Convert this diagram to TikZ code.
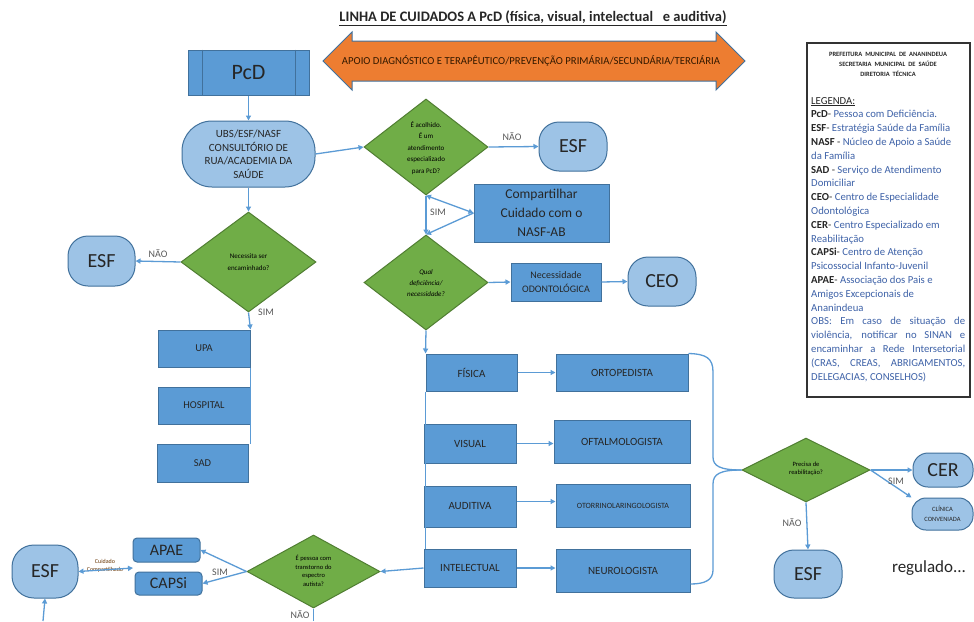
\documentclass[tikz,border=0pt]{standalone}
\usepackage{fontspec}
\setmainfont{Carlito}
\usetikzlibrary{shapes.geometric,arrows.meta,calc}
\definecolor{boxblue}{HTML}{5B9BD5}
\definecolor{boxedge}{HTML}{41719C}
\definecolor{lightblue}{HTML}{9DC3E6}
\definecolor{dgreen}{HTML}{70AD47}
\definecolor{gedge}{HTML}{507E32}
\definecolor{orangef}{HTML}{ED7D31}
\definecolor{conn}{HTML}{5B9BD5}
\definecolor{legblue}{HTML}{3E62A8}
\definecolor{lblgray}{HTML}{595959}
\begin{document}
\begin{tikzpicture}[x=1pt,y=-1pt,
 bx/.style={draw=boxedge, fill=boxblue, line width=1pt, inner sep=1pt, align=center, text=black!85},
 rnd/.style={draw=boxedge, fill=lightblue, line width=1pt, inner sep=1pt, align=center, text=black!85},
 dia/.style={diamond, draw=gedge, fill=dgreen, line width=1pt, inner sep=0pt},
 dtxt/.style={align=center, inner sep=0pt, text=black},
 con/.style={draw=conn, line width=1.3pt, -{Triangle[length=5pt,width=5pt]}},
 dcon/.style={draw=conn, line width=1.3pt, {Triangle[length=5pt,width=5pt]}-{Triangle[length=5pt,width=5pt]}},
 ln/.style={draw=conn, line width=1.3pt},
 lbl/.style={font=\fontsize{10}{12}\selectfont, text=lblgray, inner sep=0pt}
]
\useasboundingbox (0,0) rectangle (974,621);
\fill[white] (0,0) rectangle (974,621);

% title and big arrow
\node[font=\fontsize{14.5}{16}\selectfont\bfseries, text=black!85, inner sep=0pt] (title) at (533,18)
 {\underline{LINHA DE CUIDADOS A PcD (física, visual, intelectual \ \ e auditiva)}};
\draw[draw=boxedge, fill=orangef, line width=1pt] (323,61) -- (352,32) -- (352,41) -- (716,41) -- (716,32)
 -- (745,61) -- (716,90) -- (716,81) -- (352,81) -- (352,90) -- cycle;
\node[font=\fontsize{10.7}{12}\selectfont, text=black!80!orange, inner sep=0pt] (apoio) at (531,61)
 {APOIO DIAGNÓSTICO E TERAPÊUTICO/PREVENÇÃO PRIMÁRIA/SECUNDÁRIA/TERCIÁRIA};

% legend
\draw[line width=1.4pt, black!80] (807,43) rectangle (970,397);
\node[align=center, font=\fontsize{6.5}{10}\selectfont\bfseries, text=black!85, inner sep=0pt] (head) at (888,64)
 {PREFEITURA \ MUNICIPAL \ DE \ ANANINDEUA\\SECRETARIA \ MUNICIPAL \ DE \ SAÚDE\\DIRETORIA \ TÉCNICA};
\node[anchor=north west, align=left, inner sep=0pt, font=\fontsize{10.7}{13.8}\selectfont, text=black!85] (leg) at (811,97)
 {\underline{LEGENDA:}\\
 \textbf{PcD}- {\color{legblue}Pessoa com Deficiência.}\\
 \textbf{ESF}- {\color{legblue}Estratégia Saúde da Família}\\
 \textbf{NASF} - {\color{legblue}Núcleo de Apoio a Saúde}\\
 {\color{legblue}da Família}\\
 \textbf{SAD} - {\color{legblue}Serviço de Atendimento}\\
 {\color{legblue}Domiciliar}\\
 \textbf{CEO}- {\color{legblue}Centro de Especialidade}\\
 {\color{legblue}Odontológica}\\
 \textbf{CER}- {\color{legblue}Centro Especializado em}\\
 {\color{legblue}Reabilitação}\\
 \textbf{CAPSi}- {\color{legblue}Centro de Atenção}\\
 {\color{legblue}Psicossocial Infanto-Juvenil}\\
 \textbf{APAE}- {\color{legblue}Associação dos Pais e}\\
 {\color{legblue}Amigos Excepcionais de}\\
 {\color{legblue}Ananindeua}\\
 {\color{legblue}\makebox[154pt][s]{OBS: Em caso de situação de}}\\
 {\color{legblue}\makebox[154pt][s]{violência, notificar no SINAN e}}\\
 {\color{legblue}\makebox[154pt][s]{encaminhar a Rede Intersetorial}}\\
 {\color{legblue}\makebox[154pt][s]{(CRAS, \ CREAS, \ ABRIGAMENTOS,}}\\
 {\color{legblue}DELEGACIAS, CONSELHOS)}};

% top column
\node[bx, minimum width=121pt, minimum height=45pt, font=\fontsize{22}{24}\selectfont] (pcd) at (248.5,72.5) {PcD};
\draw[boxedge, line width=1pt] ($(pcd.north west)+(15,0)$) -- ($(pcd.south west)+(15,0)$);
\draw[boxedge, line width=1pt] ($(pcd.north east)+(-14,0)$) -- ($(pcd.south east)+(-14,0)$);
\node[rnd, minimum width=133pt, minimum height=66pt, rounded corners=30pt, font=\fontsize{11}{13.5}\selectfont] (ubs) at (248.5,154)
 {UBS/ESF/NASF\\CONSULTÓRIO DE\\RUA/ACADEMIA DA\\SAÚDE};
\node[dia, minimum width=124pt, minimum height=96pt] (d1) at (426,147) {};
\node[dtxt, font=\fontsize{7}{11.5}\selectfont] at (426,148) {É acolhido.\\É um\\atendimento\\especializado\\para PcD?};
\node[rnd, minimum width=68pt, minimum height=49pt, rounded corners=20pt, font=\fontsize{20}{22}\selectfont] (esf1) at (573,146.5) {ESF};
\node[bx, minimum width=135pt, minimum height=58pt, font=\fontsize{13.5}{19}\selectfont] (share) at (541.5,213) {Compartilhar\\Cuidado com o\\NASF-AB};
\node[dia, minimum width=124pt, minimum height=95pt] (d2) at (426,282.5) {};
\node[dtxt, font=\fontsize{7}{11}\selectfont\itshape] at (426,283) {Qual\\deficiência/\\necessidade?};
\node[bx, minimum width=90pt, minimum height=38pt, font=\fontsize{10}{14}\selectfont] (odon) at (556,282) {Necessidade\\ODONTOLÓGICA};
\node[rnd, minimum width=68pt, minimum height=49pt, rounded corners=20pt, font=\fontsize{20}{22}\selectfont] (ceo) at (662,281.5) {CEO};

% categories
\node[bx, minimum width=91pt, minimum height=37pt, font=\fontsize{11}{13}\selectfont] (fisica) at (471.5,372.5) {FÍSICA};
\node[bx, minimum width=92pt, minimum height=39pt, font=\fontsize{11}{13}\selectfont] (visual) at (470,443.5) {VISUAL};
\node[bx, minimum width=92pt, minimum height=41pt, font=\fontsize{11}{13}\selectfont] (audit) at (470,506.5) {AUDITIVA};
\node[bx, minimum width=92pt, minimum height=38pt, font=\fontsize{11}{13}\selectfont] (intel) at (470,568) {INTELECTUAL};
\node[bx, minimum width=132pt, minimum height=37pt, font=\fontsize{11}{13}\selectfont] (orto) at (622,372.5) {ORTOPEDISTA};
\node[bx, minimum width=136pt, minimum height=43pt, font=\fontsize{11}{13}\selectfont] (ofta) at (622,441.5) {OFTALMOLOGISTA};
\node[bx, minimum width=134pt, minimum height=43pt, font=\fontsize{8}{10}\selectfont] (otorr) at (623,505.5) {OTORRINOLARINGOLOGISTA};
\node[bx, minimum width=134pt, minimum height=43pt, font=\fontsize{11}{13}\selectfont] (neuro) at (623,570.5) {NEUROLOGISTA};

% rehabilitation
\node[dia, minimum width=128pt, minimum height=64pt] (d3) at (806,470) {};
\node[dtxt, font=\fontsize{6.5}{8.5}\selectfont] at (806,469) {Precisa de\\reabilitação?};
\node[rnd, minimum width=60pt, minimum height=34pt, rounded corners=15pt, font=\fontsize{20}{22}\selectfont] (cer) at (943,470) {CER};
\node[rnd, minimum width=61pt, minimum height=32pt, rounded corners=14pt, font=\fontsize{6.5}{10}\selectfont] (clin) at (942.5,514) {CLÍNICA\\CONVENIADA};
\node[rnd, minimum width=68pt, minimum height=48pt, rounded corners=20pt, font=\fontsize{20}{22}\selectfont] (esf3) at (808,574) {ESF};
\node[inner sep=0pt, font=\fontsize{17}{19}\selectfont, text=black!85] (reg) at (929,568) {regulado...};

% left column
\node[dia, minimum width=135pt, minimum height=100pt] (denc) at (248.5,262) {};
\node[dtxt, font=\fontsize{7}{12}\selectfont] at (248.5,262) {Necessita ser\\encaminhado?};
\node[rnd, minimum width=67pt, minimum height=50pt, rounded corners=20pt, font=\fontsize{20}{22}\selectfont] (esf2) at (101.5,261) {ESF};
\node[bx, minimum width=92pt, minimum height=37pt, font=\fontsize{10.5}{12}\selectfont] (upa) at (204,348.5) {UPA};
\node[bx, minimum width=92pt, minimum height=37pt, font=\fontsize{10.5}{12}\selectfont] (hosp) at (204,405.5) {HOSPITAL};
\node[bx, minimum width=91pt, minimum height=38pt, font=\fontsize{10.5}{12}\selectfont] (sad) at (202.5,463) {SAD};

% bottom
\node[dia, minimum width=133pt, minimum height=73pt] (daut) at (313.5,571.5) {};
\node[dtxt, font=\fontsize{6.5}{8.5}\selectfont] at (313.5,571) {É pessoa com\\transtorno do\\espectro\\autista?};
\node[bx, minimum width=67pt, minimum height=24pt, rounded corners=4pt, font=\fontsize{16}{18}\selectfont] (apae) at (166.5,550) {APAE};
\node[bx, minimum width=67pt, minimum height=23pt, rounded corners=4pt, font=\fontsize{16}{18}\selectfont] (capsi) at (168.5,583.5) {CAPSi};
\node[rnd, minimum width=66pt, minimum height=53pt, rounded corners=22pt, font=\fontsize{20}{22}\selectfont] (esf4) at (45,571.5) {ESF};
\node[align=center, inner sep=0pt, font=\fontsize{6}{8}\selectfont, text=black!60!orange] (cc) at (105,566) {Cuidado\\Compartilhado};
\coordinate (ccend) at (133,568);
\coordinate (bot1) at (43,621);
\coordinate (bot2) at (313.5,621);

% connectors
\draw[con] (pcd.south) -- (ubs.north);
\draw[con] (ubs.east) -- (d1.west);
\draw[con] (d1.east) -- (esf1.west);
\node[lbl] at (512,137) {NÃO};
\draw[con] (d1.south) -- (d2.north);
\draw[dcon] (d1.south) -- (share.west);
\draw[con] (share.west) -- (d2.north);
\node[lbl] at (438,212) {SIM};
\draw[con] (d2.east) -- (odon.west);
\draw[con] (odon.east) -- (ceo.west);
\draw[con] (d2.south) -- (fisica.north west);
\draw[ln] (fisica.south west) -- (intel.north west -| fisica.west);
\draw[con] (fisica.east) -- (fisica.east -| orto.west);
\draw[con] (visual.east) -- (visual.east -| ofta.west);
\draw[con] ([yshift=5pt]audit.east) -- ([yshift=5pt]audit.east -| otorr.west);
\draw[con] (intel.east) -- (intel.east -| neuro.west);
\draw[ln] (orto.north east) .. controls (706,354) and (713,358) .. (713,372) -- (713,457)
 .. controls (713,466) and (720,470) .. (d3.west);
\draw[ln] (d3.west) .. controls (720,470) and (713,474) .. (713,484) -- (713,570)
 .. controls (713,580) and (705,584) .. (neuro.east |- 0,584);
\draw[con] (d3.east) -- (cer.west);
\draw[con] (d3.east) -- (clin.north west);
\node[lbl] at (896,481) {SIM};
\draw[con] (d3.south) -- (esf3.north);
\node[lbl] at (792,523) {NÃO};
\draw[con] (ubs.south) -- (denc.north);
\draw[con] (denc.west) -- (esf2.east);
\node[lbl] at (158,254) {NÃO};
\draw[con] (denc.south) -- (upa.north east);
\node[lbl] at (266,312) {SIM};
\draw[ln] (upa.south east) -- (sad.north east -| upa.east);
\draw[con] (intel.west) -- (daut.east);
\draw[con] (daut.west) -- (apae.east);
\draw[con] (daut.west) -- (capsi.east);
\node[lbl] at (220,572) {SIM};
\draw[dcon] (esf4.east) -- (ccend);
\draw[con] (bot1) -- (esf4.south);
\draw[ln] (daut.south) -- (bot2);
\node[lbl] at (300,615) {NÃO};
\end{tikzpicture}
\end{document}
